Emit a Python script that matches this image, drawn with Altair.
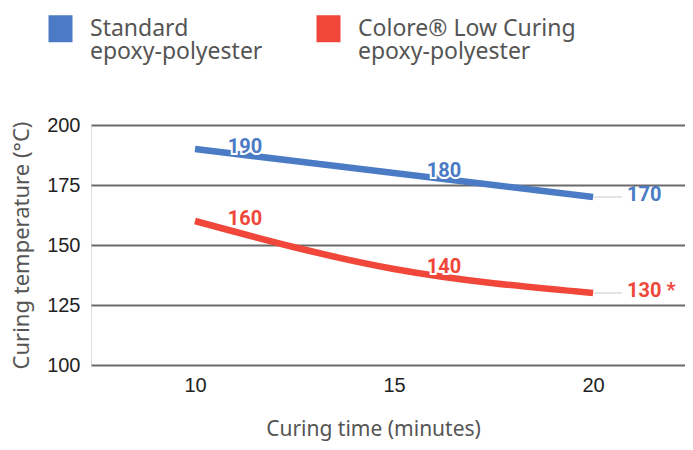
import altair as alt
import pandas as pd

times = [10, 15, 20]
series_names = ["Standard epoxy-polyester", "Colore® Low Curing epoxy-polyester"]
standard_temps = [190, 180, 170]
low_temps = [160, 140, 130]
end_labels = ["170", "130 *"]
colors = ["#4A7BC4", "#F0473A"]

rows = []
for name, temps, endl in zip(series_names, [standard_temps, low_temps], end_labels):
    for i, (t, v) in enumerate(zip(times, temps)):
        rows.append({
            "series": name,
            "time": t,
            "temp": v,
            "label": endl if i == len(times) - 1 else str(v),
            "is_end": i == len(times) - 1,
        })
df = pd.DataFrame(rows)

FONT = "Noto Sans"
color_scale = alt.Scale(domain=series_names, range=colors)
x_enc = alt.X("time:Q", scale=alt.Scale(domain=[7.387, 22.31], nice=False, zero=False),
              axis=alt.Axis(values=times, title="Curing time (minutes)", grid=False,
                            domain=False, ticks=False, labelFont="Liberation Sans",
                            labelFontSize=20, labelColor="#222", labelPadding=10,
                            titleFont=FONT, titleFontSize=21, titleFontWeight="normal",
                            titleColor="#555", titleX=282, titleY=64,
                            titleBaseline="middle", titleAlign="center"))
y_enc = alt.Y("temp:Q", scale=alt.Scale(domain=[100, 200], nice=False, zero=False),
              axis=alt.Axis(values=[100, 125, 150, 175, 200], title="Curing temperature (°C)",
                            grid=True, gridColor="#6b6b6b", gridWidth=2, domain=False,
                            ticks=False, labelFont="Liberation Sans", labelFontSize=20,
                            labelColor="#222", labelPadding=11, titleFont=FONT,
                            titleFontSize=22, titleFontWeight="normal", titleColor="#555",
                            titleX=-70, titleY=120, titleAngle=-90, titleBaseline="middle",
                            titleAlign="center"))

base = alt.Chart(df)

legend_layer = base.mark_point(filled=True, size=0, opacity=1).encode(
    x=x_enc, y=y_enc,
    color=alt.Color("series:N", scale=color_scale, legend=alt.Legend(
        title=None, orient="none", legendX=-44, legendY=-110, direction="horizontal",
        columnPadding=52, labelOffset=16, symbolSize=729,
        symbolType="M-0.889,-1H0.889V1H-0.889Z", symbolStrokeWidth=0,
        symbolOpacity=1, labelFont=FONT, labelFontSize=23, labelColor="#555",
        labelLimit=400, padding=0,
        labelExpr="[replace(datum.label, ' epoxy-polyester', ''), 'epoxy-polyester']")),
)

no_leg = alt.Color("series:N", scale=color_scale, legend=None)

line = base.mark_line(strokeWidth=6.5, interpolate="monotone").encode(
    x=x_enc, y=y_enc, color=no_leg, detail="series:N")

leader = base.transform_filter("datum.is_end").mark_rule(
    color="#dddddd", strokeWidth=1.5, x2Offset=29).encode(
    x="time:Q", x2="time:Q", y="temp:Q")

mid = base.transform_filter("!datum.is_end")
mid_halo = mid.mark_text(font="Roboto", fontWeight="bold", fontSize=20, dx=50, dy=-2,
                         stroke="white", strokeWidth=4, fill="white").encode(
    x="time:Q", y="temp:Q", text="label:N")
mid_text = mid.mark_text(font="Roboto", fontWeight="bold", fontSize=20, dx=50, dy=-2).encode(
    x="time:Q", y="temp:Q", text="label:N", color=no_leg)

end_text = base.transform_filter("datum.is_end").mark_text(
    font="Roboto", fontWeight="bold", fontSize=20, dx=34, dy=-2, align="left").encode(
    x="time:Q", y="temp:Q", text="label:N", color=no_leg)

chart = alt.layer(legend_layer, line, leader, mid_halo, mid_text, end_text).properties(
    width=594, height=240,
    autosize=alt.AutoSizeParams(type="none"),
    padding={"left": 83, "top": 117, "right": 0, "bottom": 77},
).configure_view(stroke=None).configure(style={"guide-label": {"lineHeight": 23}})

chart.save("out.html", embed_options={"renderer": "svg", "actions": False})
